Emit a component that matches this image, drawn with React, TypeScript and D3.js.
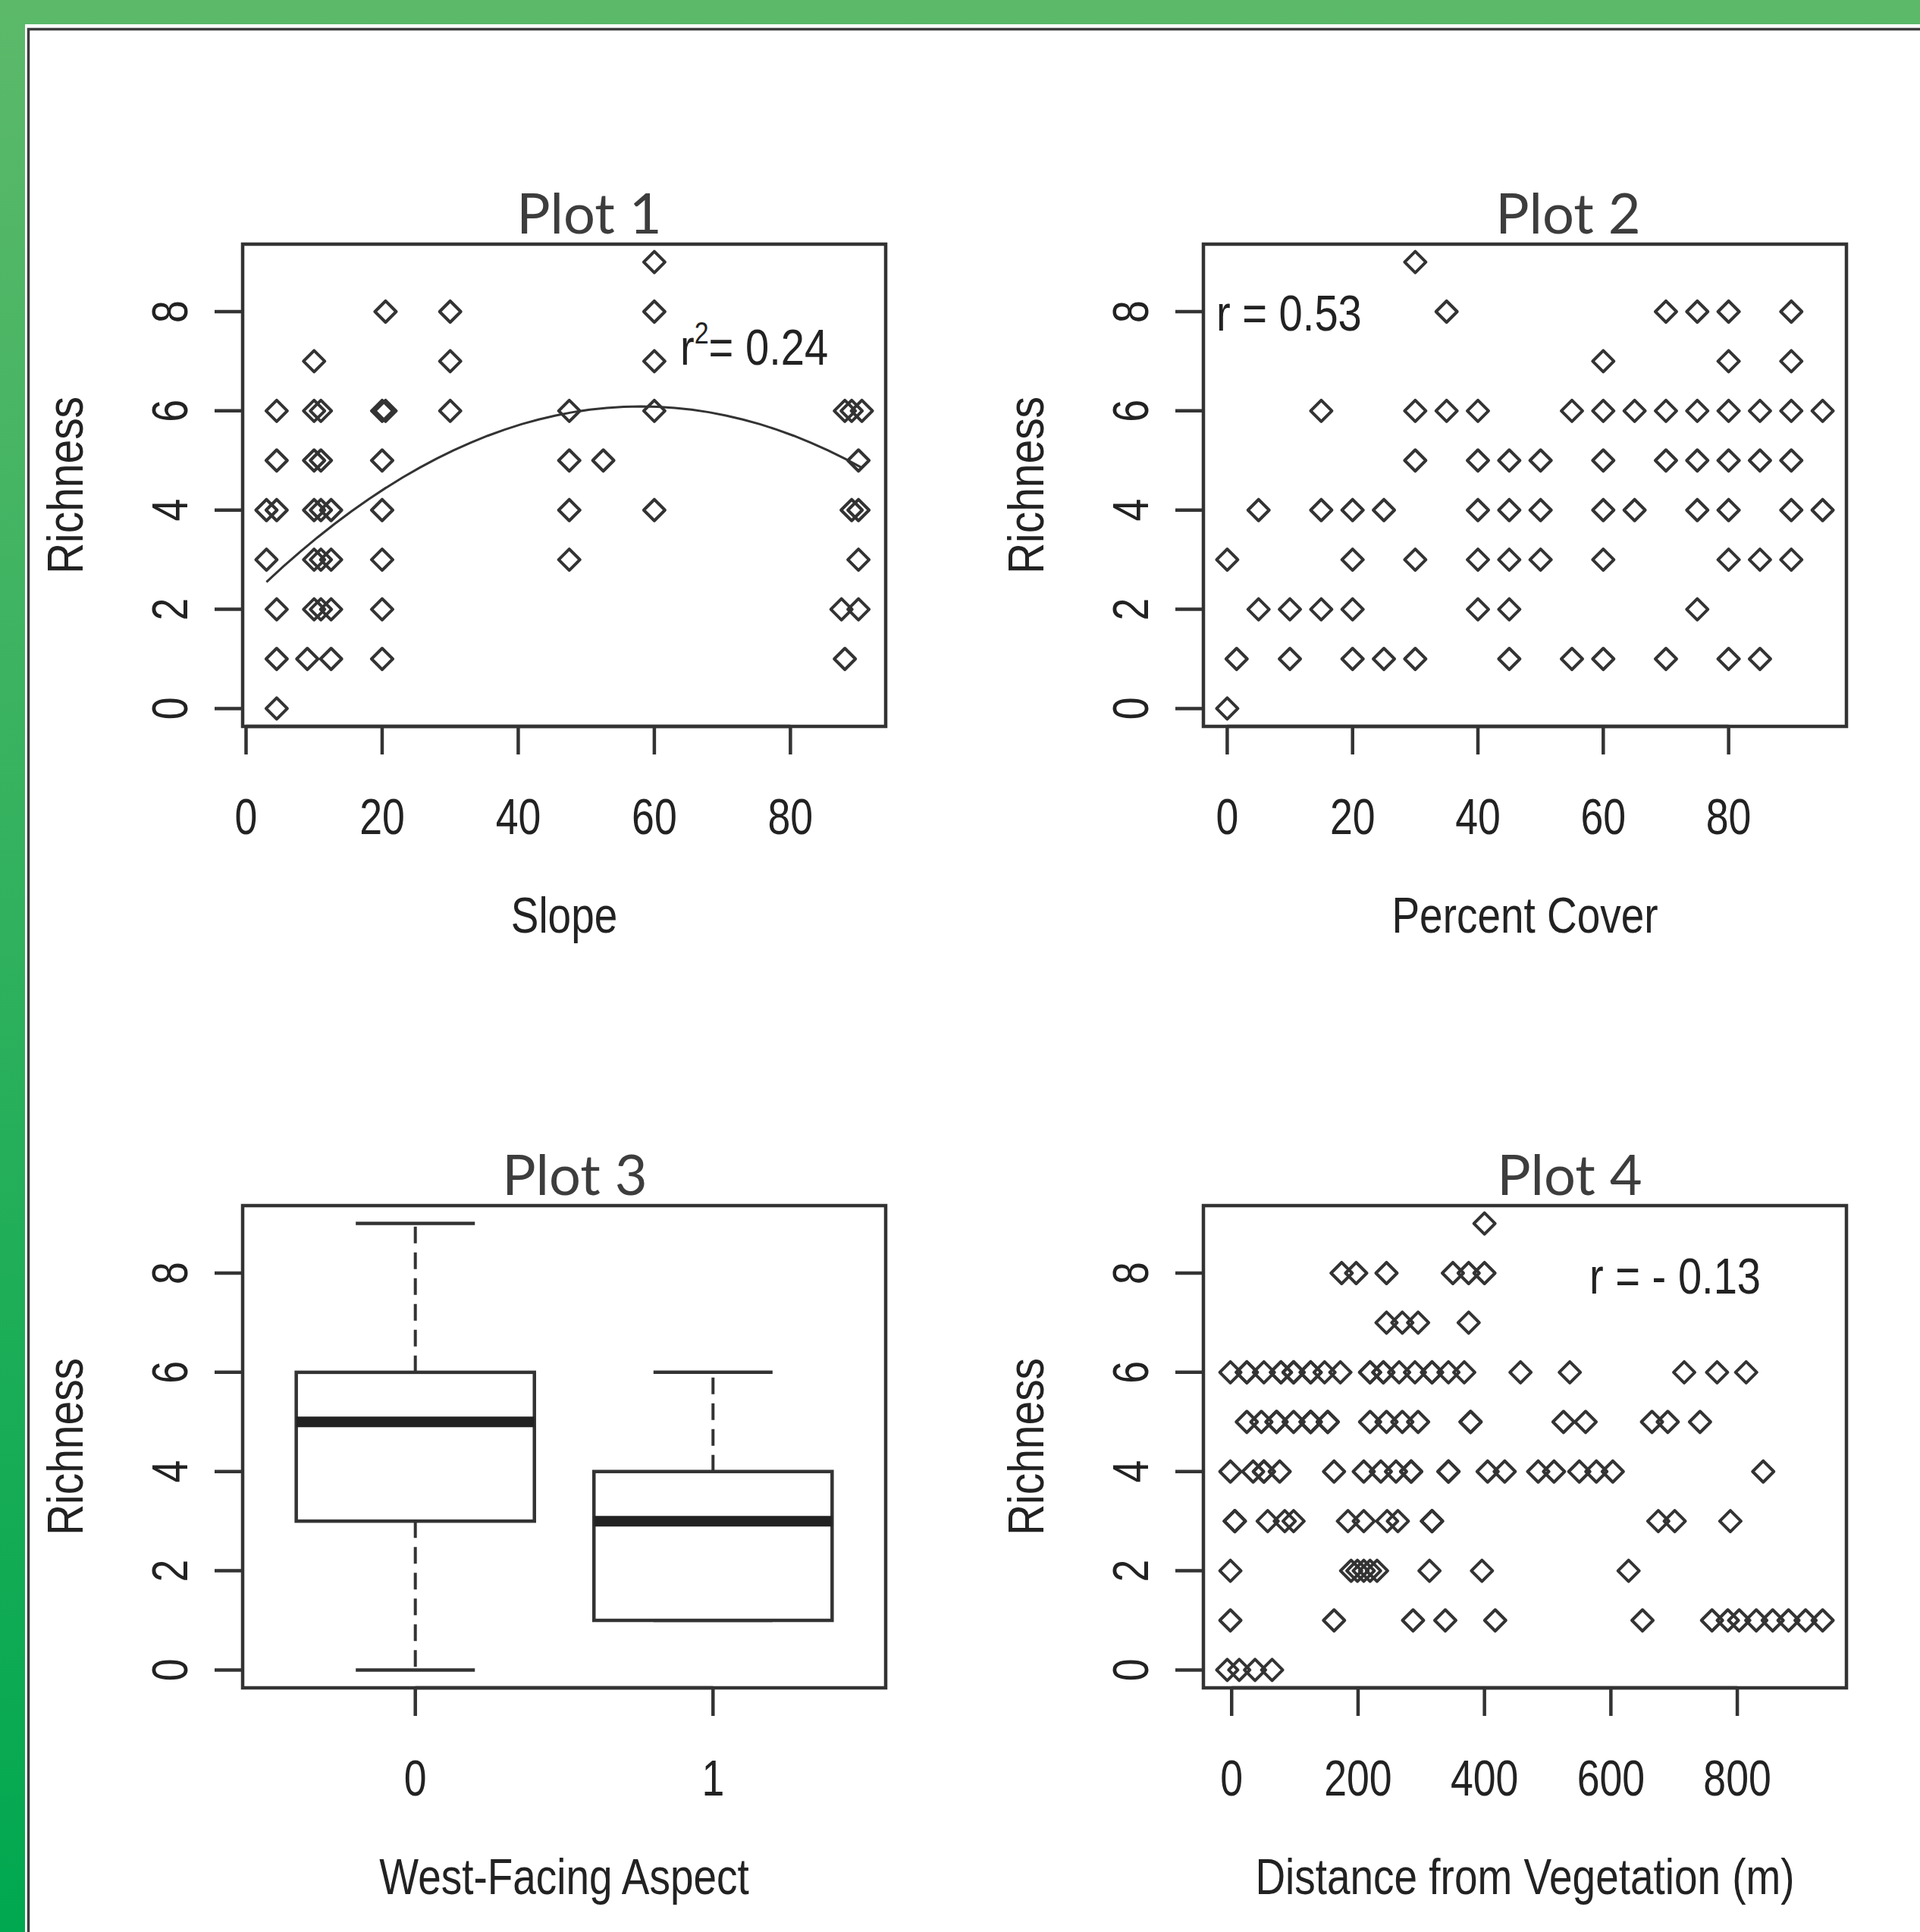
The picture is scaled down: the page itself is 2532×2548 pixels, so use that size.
import * as d3 from 'd3';

// ---- data (x values grouped by richness 0..9) ----
const RICHNESS_TICKS = [0, 2, 4, 6, 8];

const SLOPE_TICKS = [0, 20, 40, 60, 80];
const slopeByRichness: number[][] = [
  [4.5],
  [4.5, 9, 12.5, 20, 88],
  [4.5, 10, 11, 12.5, 20, 87.5, 90],
  [3, 10, 11, 12.5, 20, 47.5, 90],
  [3, 4.5, 10, 11, 12.5, 20, 47.5, 60, 89, 90],
  [4.5, 10, 11, 20, 47.5, 52.5, 90],
  [4.5, 10, 11, 20, 20.5, 30, 47.5, 60, 88, 89, 90.5],
  [10, 30, 60],
  [20.5, 30, 60],
  [60],
];
// quadratic fit drawn on plot 1: b0 + b1*x + b2*x^2
const slopeFit = [2.154, 0.13572, -0.00117];

const COVER_TICKS = [0, 20, 40, 60, 80];
const coverByRichness: number[][] = [
  [0],
  [1.5, 10, 20, 25, 30, 45, 55, 60, 70, 80, 85],
  [5, 10, 15, 20, 40, 45, 75],
  [0, 20, 30, 40, 45, 50, 60, 80, 85, 90],
  [5, 15, 20, 25, 40, 45, 50, 60, 65, 75, 80, 90, 95],
  [30, 40, 45, 50, 60, 70, 75, 80, 85, 90],
  [15, 30, 35, 40, 55, 60, 65, 70, 75, 80, 85, 90, 95],
  [60, 80, 90],
  [35, 70, 75, 80, 90],
  [30],
];

const ASPECT_GROUPS = ['0', '1'];
const boxMin = [0, 1];
const boxQ1 = [3, 1];
const boxMedian = [5, 3];
const boxQ3 = [6, 4];
const boxMax = [9, 6];

const DIST_TICKS = [0, 200, 400, 600, 800];
const distByRichness: number[][] = [
  [-7, 12, 37, 64],
  [-2, 162, 287, 338, 417, 650, 760, 785, 803, 830, 856, 881, 908, 935],
  [-2, 189, 199, 209, 219, 230, 313, 396, 628],
  [5, 5, 5, 57, 84, 98, 184, 209, 246, 263, 317, 317, 317, 675, 701, 789],
  [-2, 34, 51, 51, 76, 162, 209, 236, 260, 284, 284, 343, 343, 405, 432, 485, 510, 550, 577, 603, 841],
  [24, 47, 71, 71, 98, 125, 125, 125, 152, 152, 219, 245, 270, 295, 378, 378, 525, 560, 665, 690, 741],
  [-2, 24, 24, 51, 78, 78, 98, 98, 98, 125, 125, 147, 172, 219, 219, 240, 240, 265, 290, 317, 317, 343, 368, 457, 535, 716, 768, 814],
  [245, 270, 295, 375],
  [174, 197, 245, 350, 375, 400],
  [400],
];

// ---- layout ----
const W = 2532;
const H = 2548;
const PW = 848;
const PH = 636;
const COL_X = [320, 1587];
const ROW_Y = [322, 1590];
const INK = '#333';
const TXT = '#222';
const LABEL_FONT = '"Liberation Sans", Arial, sans-serif';

const flatten = (rows: number[][]) =>
  rows.flatMap((xs, r) => xs.map((x) => ({ x, y: r })));

// R style range extension: data range padded by 4% each side
const rExtend = (vals: number[]): [number, number] => {
  const [a, b] = d3.extent(vals) as [number, number];
  const p = (b - a) * 0.04;
  return [a - p, b + p];
};

const allRich = [slopeByRichness, coverByRichness, distByRichness].flatMap((rows) =>
  rows.flatMap((xs, r) => xs.map(() => r))
);
const yDomain = rExtend(allRich);

const NText = (props: any) => {
  const { x, y, rot = 0, size = 67, sx = 0.8, anchor = 'middle', children } = props;
  return (
    <text
      transform={`translate(${x},${y}) rotate(${rot}) scale(${sx},1)`}
      textAnchor={anchor}
      fontSize={size}
      fontFamily={LABEL_FONT}
      fill={TXT}
    >
      {children}
    </text>
  );
};

const Diamond = ({ cx, cy }: { cx: number; cy: number }) => {
  const h = 14;
  return (
    <path
      d={`M${cx},${cy - h}L${cx + h},${cy}L${cx},${cy + h}L${cx - h},${cy}Z`}
      fill="none"
      stroke={INK}
      strokeWidth={4}
      strokeLinejoin="round"
    />
  );
};

const Frame = (props: any) => {
  const { x0, y0, xScale, yScale, xTicks, xLabels, xTitle, title, titleDx, children } = props;
  const bottom = y0 + PH;
  return (
    <g>
      <text
        x={x0 + PW / 2 + titleDx}
        y={y0 - 14}
        textAnchor="middle"
        fontSize={74}
        fontFamily="Lato, 'Open Sans', sans-serif"
        fill="#3d3d3d"
      >
        {title}
      </text>
      {children}
      <rect x={x0} y={y0} width={PW} height={PH} fill="none" stroke={INK} strokeWidth={4.5} />
      {/* x axis */}
      <line
        x1={xScale(xTicks[0])}
        x2={xScale(xTicks[xTicks.length - 1])}
        y1={bottom}
        y2={bottom}
        stroke={INK}
        strokeWidth={4.5}
      />
      {xTicks.map((t: number, i: number) => (
        <g key={'xt' + i}>
          <line x1={xScale(t)} x2={xScale(t)} y1={bottom} y2={bottom + 37} stroke={INK} strokeWidth={4.5} />
          <NText x={xScale(t)} y={bottom + 142}>{xLabels[i]}</NText>
        </g>
      ))}
      <NText x={x0 + PW / 2} y={bottom + 272} sx={0.82}>{xTitle}</NText>
      {/* y axis */}
      {RICHNESS_TICKS.map((t) => (
        <g key={'yt' + t}>
          <line x1={x0 - 37} x2={x0} y1={yScale(t)} y2={yScale(t)} stroke={INK} strokeWidth={4.5} />
          <NText x={x0 - 73} y={yScale(t)} rot={-90}>{String(t)}</NText>
        </g>
      ))}
      <NText x={x0 - 211} y={y0 + PH / 2} rot={-90} sx={0.85}>Richness</NText>
    </g>
  );
};

const Scatter = (props: any) => {
  const { x0, y0, rows, ticks, xTitle, title, titleDx, fit, note } = props;
  const pts = flatten(rows);
  const xExt = d3.extent(pts, (p) => p.x) as [number, number];
  const xScale = d3.scaleLinear().domain(rExtend(pts.map((p) => p.x))).range([x0, x0 + PW]);
  const yScale = d3.scaleLinear().domain(yDomain).range([y0 + PH, y0]);
  let fitPath: string | null = null;
  if (fit) {
    // fitted curve evaluated over the observed x range
    const xs = d3.range(xExt[0], xExt[1], 2.5).concat([xExt[1]]);
    const line = d3
      .line<number>()
      .x((x) => xScale(x))
      .y((x) => yScale(fit[0] + fit[1] * x + fit[2] * x * x));
    fitPath = line(xs);
  }
  return (
    <Frame
      x0={x0}
      y0={y0}
      xScale={xScale}
      yScale={yScale}
      xTicks={ticks}
      xLabels={ticks.map(String)}
      xTitle={xTitle}
      title={title}
      titleDx={titleDx}
    >
      {pts.map((p, i) => (
        <Diamond key={i} cx={xScale(p.x)} cy={yScale(p.y)} />
      ))}
      {fitPath && <path d={fitPath} fill="none" stroke={INK} strokeWidth={3} />}
      {note && (
        <NText x={note.x} y={note.y} anchor="start" size={66} sx={0.85}>
          {note.text}
        </NText>
      )}
    </Frame>
  );
};

const BoxPanel = ({ x0, y0 }: { x0: number; y0: number }) => {
  const pos = ASPECT_GROUPS.map((_, i) => i + 1);
  const xScale = d3.scaleLinear().domain(rExtend([0.5, ASPECT_GROUPS.length + 0.5])).range([x0, x0 + PW]);
  const yScale = d3.scaleLinear().domain(yDomain).range([y0 + PH, y0]);
  const half = 0.4;
  const staple = 0.2;
  return (
    <Frame
      x0={x0}
      y0={y0}
      xScale={xScale}
      yScale={yScale}
      xTicks={pos}
      xLabels={ASPECT_GROUPS}
      xTitle="West-Facing Aspect"
      title="Plot 3"
      titleDx={14}
    >
      {pos.map((p, i) => (
        <g key={i}>
          <line x1={xScale(p)} x2={xScale(p)} y1={yScale(boxQ3[i])} y2={yScale(boxMax[i])}
            stroke={INK} strokeWidth={4} strokeDasharray="22,12" />
          <line x1={xScale(p)} x2={xScale(p)} y1={yScale(boxQ1[i])} y2={yScale(boxMin[i])}
            stroke={INK} strokeWidth={4} strokeDasharray="22,12" />
          <line x1={xScale(p - staple)} x2={xScale(p + staple)} y1={yScale(boxMax[i])} y2={yScale(boxMax[i])}
            stroke={INK} strokeWidth={4.5} />
          <line x1={xScale(p - staple)} x2={xScale(p + staple)} y1={yScale(boxMin[i])} y2={yScale(boxMin[i])}
            stroke={INK} strokeWidth={4.5} />
          <rect
            x={xScale(p - half)}
            y={yScale(boxQ3[i])}
            width={xScale(p + half) - xScale(p - half)}
            height={yScale(boxQ1[i]) - yScale(boxQ3[i])}
            fill="white"
            stroke={INK}
            strokeWidth={4.5}
          />
          <line x1={xScale(p - half)} x2={xScale(p + half)} y1={yScale(boxMedian[i])} y2={yScale(boxMedian[i])}
            stroke="#222" strokeWidth={14} />
        </g>
      ))}
    </Frame>
  );
};

export default function App() {
  return (
    <div style={{ position: 'absolute', left: 0, top: 0 }}>
      <svg width={W} height={H} viewBox={`0 0 ${W} ${H}`} style={{ display: 'block' }}>
        <defs>
          <linearGradient id="bg" x1="0" y1="0" x2="0" y2="1">
            <stop offset="0" stopColor="#5cb96a" />
            <stop offset="1" stopColor="#00a84f" />
          </linearGradient>
        </defs>
        <rect x={0} y={0} width={W} height={H} fill="url(#bg)" />
        <rect x={33} y={32} width={W} height={H} fill="white" />
        <rect x={37.5} y={38.5} width={W} height={H} fill="none" stroke="#3c3c3c" strokeWidth={3.5} />

        <Scatter
          x0={COL_X[0]}
          y0={ROW_Y[0]}
          rows={slopeByRichness}
          ticks={SLOPE_TICKS}
          xTitle="Slope"
          title="Plot 1"
          titleDx={33}
          fit={slopeFit}
          note={{
            x: 897,
            y: 481,
            text: (
              <>
                <tspan>r</tspan>
                <tspan dy={-28} fontSize={40}>2</tspan>
                <tspan dy={28}>= 0.24</tspan>
              </>
            ),
          }}
        />
        <Scatter
          x0={COL_X[1]}
          y0={ROW_Y[0]}
          rows={coverByRichness}
          ticks={COVER_TICKS}
          xTitle="Percent Cover"
          title="Plot 2"
          titleDx={57}
          note={{ x: 1604, y: 436, text: 'r = 0.53' }}
        />
        <BoxPanel x0={COL_X[0]} y0={ROW_Y[1]} />
        <Scatter
          x0={COL_X[1]}
          y0={ROW_Y[1]}
          rows={distByRichness}
          ticks={DIST_TICKS}
          xTitle="Distance from Vegetation (m)"
          title="Plot 4"
          titleDx={59}
          note={{ x: 2096, y: 1706, text: 'r = - 0.13' }}
        />
      </svg>
    </div>
  );
}
